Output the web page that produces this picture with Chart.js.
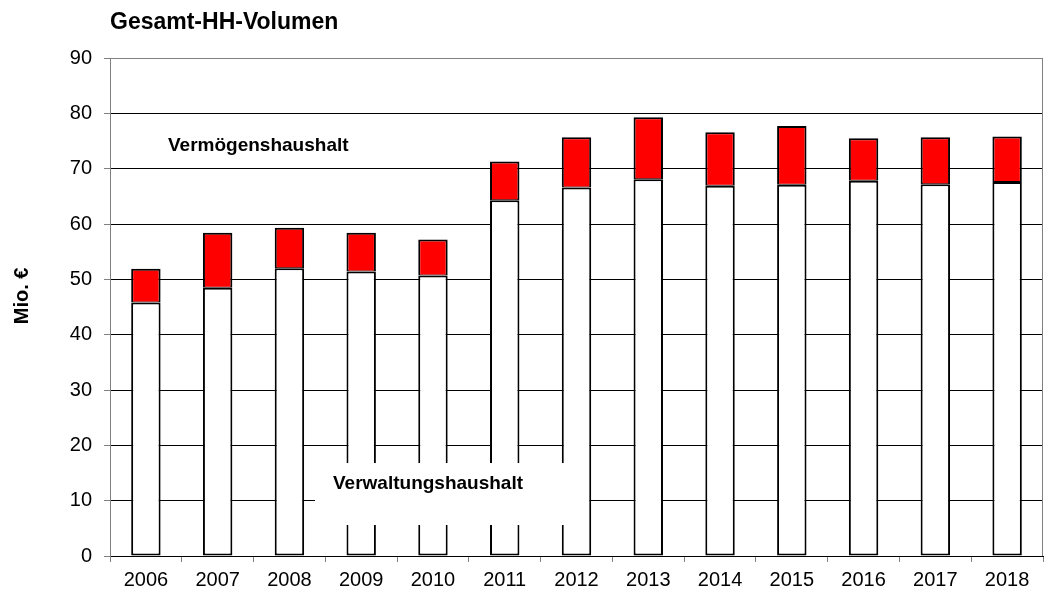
<!DOCTYPE html>
<html lang="de">
<head>
<meta charset="utf-8">
<title>Gesamt-HH-Volumen</title>
<script src="https://cdn.jsdelivr.net/npm/chart.js@4.4.1/dist/chart.umd.min.js"></script>
<style>
    html, body { margin: 0; padding: 0; background: #fff; }
    #wrap { width: 1048px; height: 593px; position: relative; }
</style>
</head>
<body>
<div id="wrap"><canvas id="hhChart"></canvas></div>
<script>
const jahre = ['2006', '2007', '2008', '2009', '2010', '2011', '2012', '2013', '2014', '2015', '2016', '2017', '2018'];
const verwaltungshaushalt = [45.8, 48.5, 52.0, 51.4, 50.7, 64.3, 66.6, 68.1, 66.9, 67.1, 67.8, 67.2, 67.6];
const vermoegenshaushalt = [6.1, 9.9, 7.3, 7.0, 6.5, 7.0, 9.1, 11.2, 9.7, 10.6, 7.7, 8.5, 8.2];
const yMin = 0;
const yMax = 90;
const yStep = 10;

const schrift = 'Arial, "Liberation Sans", sans-serif';

// Titel, Achsentitel, Rahmen und die beiden Beschriftungen im Diagramm
const beschriftung = {
    id: 'beschriftung',
    afterDatasetsDraw(chart) {
        const ctx = chart.ctx;
        const area = chart.chartArea;
        const y = chart.scales.y;
        ctx.save();

        // rechter Rand der Zeichenfläche
        ctx.strokeStyle = '#808080';
        ctx.lineWidth = 1;
        ctx.beginPath();
        ctx.moveTo(area.right - 0.5, area.top);
        ctx.lineTo(area.right - 0.5, area.bottom);
        ctx.stroke();

        // weisses Textfeld unten
        ctx.fillStyle = '#fff';
        ctx.fillRect(area.left + 205, y.getPixelForValue(16.8), 253, y.getPixelForValue(5.6) - y.getPixelForValue(16.8));

        ctx.fillStyle = '#000';
        ctx.textBaseline = 'middle';
        ctx.textAlign = 'left';
        ctx.font = 'bold 19px ' + schrift;
        ctx.fillText('Vermögenshaushalt', area.left + 58, y.getPixelForValue(74.2));
        ctx.fillText('Verwaltungshaushalt', area.left + 223, y.getPixelForValue(13.1));

        ctx.font = 'bold 23px ' + schrift;
        ctx.fillText('Gesamt-HH-Volumen', area.left, 23);

        // Achsentitel links, gedreht
        ctx.font = 'bold 20px ' + schrift;
        ctx.textAlign = 'center';
        ctx.translate(22, y.getPixelForValue(47));
        ctx.rotate(-Math.PI / 2);
        ctx.fillText('Mio. €', 0, 0);
        ctx.restore();
    }
};

new Chart(document.getElementById('hhChart'), {
    type: 'bar',
    data: {
        labels: jahre,
        datasets: [{
            label: 'Verwaltungshaushalt',
            data: verwaltungshaushalt,
            backgroundColor: '#ffffff',
            borderColor: '#000000',
            borderWidth: 2,
            borderSkipped: false,
            barPercentage: 0.41,
            categoryPercentage: 1.0
        }, {
            label: 'Vermögenshaushalt',
            data: vermoegenshaushalt,
            backgroundColor: '#ff0000',
            borderColor: '#000000',
            borderWidth: { top: 2, left: 2, right: 2, bottom: 1 },
            borderSkipped: false,
            barPercentage: 0.41,
            categoryPercentage: 1.0
        }]
    },
    options: {
        responsive: true,
        maintainAspectRatio: false,
        animation: false,
        layout: {
            padding: { top: 58, right: 5, left: 0, bottom: 0 }
        },
        plugins: {
            legend: { display: false },
            tooltip: { enabled: false },
            title: { display: false }
        },
        scales: {
            x: {
                stacked: true,
                grid: {
                    offset: true,
                    drawOnChartArea: false,
                    drawTicks: true,
                    tickLength: 6,
                    tickColor: '#808080'
                },
                border: { color: '#000000', width: 1 },
                ticks: {
                    color: '#000',
                    padding: 6,
                    maxRotation: 0,
                    font: { family: schrift, size: 20 }
                },
                afterFit(scale) { scale.height = 37; }
            },
            y: {
                stacked: true,
                min: yMin,
                max: yMax,
                grid: {
                    color: ctx => ctx.tick && ctx.tick.value === yMax ? '#808080' : '#000000',
                    lineWidth: 1,
                    tickLength: 6,
                    tickColor: '#808080'
                },
                border: { color: '#808080', width: 1 },
                ticks: {
                    stepSize: yStep,
                    color: '#000',
                    padding: 12,
                    font: { family: schrift, size: 20 }
                },
                afterFit(scale) { scale.width = 110; }
            }
        }
    },
    plugins: [beschriftung]
});
</script>
</body>
</html>
